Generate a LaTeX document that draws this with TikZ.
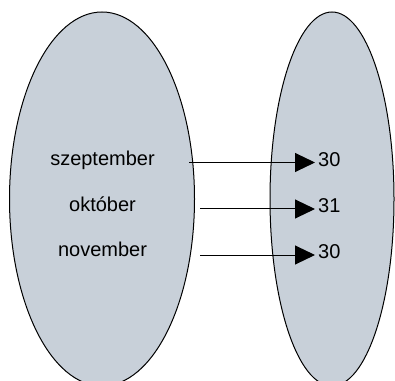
\documentclass[tikz,border=0pt]{standalone}
\usepackage{fontspec}
\setmainfont{Liberation Sans}
\usetikzlibrary{shapes.geometric,arrows.meta}
\definecolor{setfill}{RGB}{200,208,217}
\begin{document}
\begin{tikzpicture}[x=1pt,y=1pt,
  setshape/.style={ellipse,draw=black,line width=1pt,fill=setfill,inner sep=0pt},
  lbl/.style={inner sep=0pt,font=\fontsize{20}{24}\selectfont},
  arr/.style={line width=1pt,-{Triangle[length=20pt,width=19pt]},shorten >=3pt}]
\useasboundingbox (0,0) rectangle (395,380);
\clip (0,0) rectangle (395,380);
\node[setshape,minimum width=185pt,minimum height=374pt] (L) at (102,181) {};
\node[setshape,minimum width=124pt,minimum height=374pt] (R) at (332,181) {};
\node[lbl,anchor=base] (m1) at (102.5,214.3) {szeptember};
\node[lbl,anchor=base] (m2) at (102.5,168.3) {október};
\node[lbl,anchor=base] (m3) at (102.5,123.3) {november};
\node[lbl,anchor=base west] (n1) at (318,213.3) {30};
\node[lbl,anchor=base west] (n2) at (318,167.3) {31};
\node[lbl,anchor=base west] (n3) at (318,121.3) {30};
\coordinate (a1) at (189,217.5);
\coordinate (a2) at (200,171);
\coordinate (a3) at (200,125);
\draw[arr] (a1) -- (a1 -| n1.west);
\draw[arr] (a2) -- (a2 -| n2.west);
\draw[arr] (a3) -- (a3 -| n3.west);
\end{tikzpicture}
\end{document}
